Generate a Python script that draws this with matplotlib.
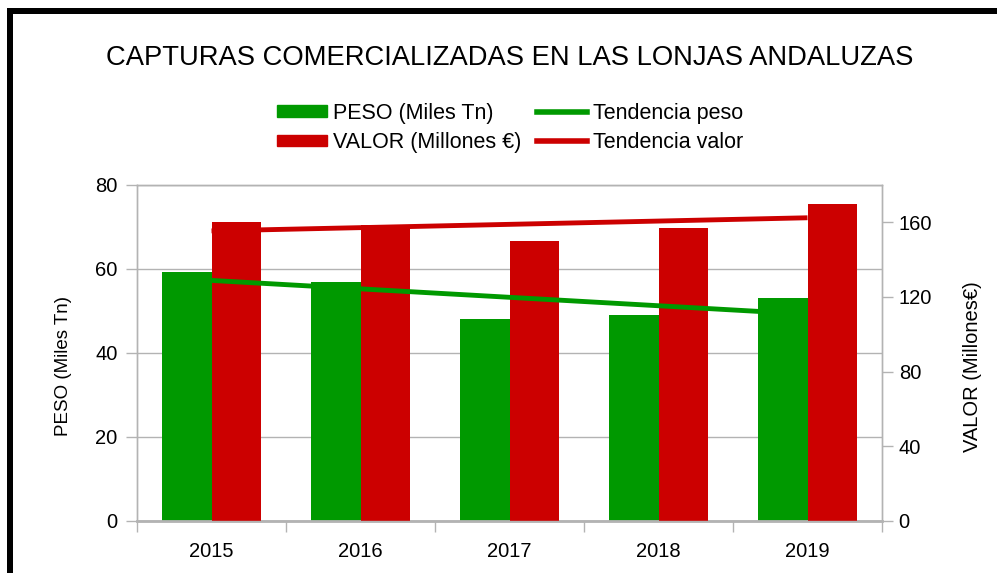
import matplotlib
matplotlib.use('Agg')
import matplotlib.pyplot as plt
from matplotlib.patches import Rectangle, Patch
from matplotlib.lines import Line2D
import numpy as np

plt.rcParams['font.family'] = ['Liberation Sans', 'DejaVu Sans']

# ----------------------------- Datos -----------------------------
anios = ['2015', '2016', '2017', '2018', '2019']
peso = [59.2, 56.9, 48.1, 49.0, 53.1]        # Miles Tn
valor = [160.0, 158.4, 149.8, 156.8, 169.6]  # Millones €

verde = '#009900'
rojo = '#cc0000'
gris = '#b3b3b3'

x = np.arange(len(anios))
w = 1 / 3

# tendencias lineales
tp = np.polyval(np.polyfit(x, peso, 1), x)
tv = np.polyval(np.polyfit(x, valor, 1), x)

# ----------------------------- Figura -----------------------------
fig = plt.figure(figsize=(9.97, 5.73), dpi=100)
ax = fig.add_axes([137 / 997, 1 - 521 / 573, (882 - 137) / 997, (521 - 185) / 573])
ax2 = ax.twinx()

ax.bar(x - w / 2, peso, width=w, color=verde, zorder=2)
ax2.bar(x + w / 2, valor, width=w, color=rojo, zorder=2)

# lineas de tendencia por encima de las barras (en ax2)
ax2.plot(x, tp * (180 / 80), color=verde, lw=3.5, zorder=3, solid_capstyle='butt')
ax2.plot(x, tv, color=rojo, lw=3.5, zorder=3, solid_capstyle='butt')

ax.set_xlim(-0.5, len(anios) - 0.5)
ax.set_ylim(0, 80)
ax2.set_ylim(0, 180)
ax.set_yticks([0, 20, 40, 60, 80])
ax2.set_yticks([0, 40, 80, 120, 160])

ax.set_xticks(np.arange(-0.5, len(anios), 1))
ax.set_xticklabels([])
ax.set_xticks(x, minor=True)
ax.set_xticklabels(anios, minor=True)
ax.tick_params(axis='x', which='major', length=8, color=gris, width=1)
ax.tick_params(axis='x', which='minor', length=0, pad=15, labelsize=14.5)
ax.tick_params(axis='y', length=8, color=gris, width=1, labelsize=14.5, pad=6)
ax2.tick_params(axis='y', length=8, color=gris, width=1, labelsize=14.5, pad=4)

ax.grid(axis='y', color=gris, lw=1, zorder=0)
ax.set_axisbelow(True)
for a in (ax, ax2):
    for s in a.spines.values():
        s.set_color(gris)
        s.set_linewidth(1)
ax.spines['bottom'].set_linewidth(2)

ax.set_ylabel('PESO (Miles Tn)', fontsize=13.5)
ax2.set_ylabel('VALOR (Millones€)', fontsize=14.5)
ax.yaxis.set_label_coords((63 - 137) / 745, (521 - 366) / 336)
ax2.yaxis.set_label_coords((972 - 137) / 745, (521 - 367) / 336)
ax.yaxis.label.set_va('center')
ax2.yaxis.label.set_va('center')

fig.text(510 / 997, 1 - 58 / 573, 'CAPTURAS COMERCIALIZADAS EN LAS LONJAS ANDALUZAS',
         ha='center', va='center', fontsize=19.7)

handles = [Patch(color=verde), Line2D([], [], color=verde, lw=4),
           Patch(color=rojo), Line2D([], [], color=rojo, lw=4)]
labels = ['PESO (Miles Tn)', 'Tendencia peso', 'VALOR (Millones €)', 'Tendencia valor']
# orden por columnas: col1 = barras, col2 = tendencias
handles = [handles[0], handles[2], handles[1], handles[3]]
labels = [labels[0], labels[2], labels[1], labels[3]]
fig.legend(handles, labels, ncol=2, loc='center', bbox_to_anchor=(510 / 997, 1 - 128 / 573),
           frameon=False, fontsize=15.5, handlelength=2.33, handleheight=0.47,
           handletextpad=0.28, columnspacing=0.7, labelspacing=0.38, borderpad=0)

# marco negro
fig.add_artist(Rectangle((7 / 997, 0), 6 / 997, 1 - 8 / 573, transform=fig.transFigure,
                         color='black', lw=0))
fig.add_artist(Rectangle((7 / 997, 1 - 14 / 573), 1, 6 / 573, transform=fig.transFigure,
                         color='black', lw=0))

fig.savefig('out.png', dpi=100)
